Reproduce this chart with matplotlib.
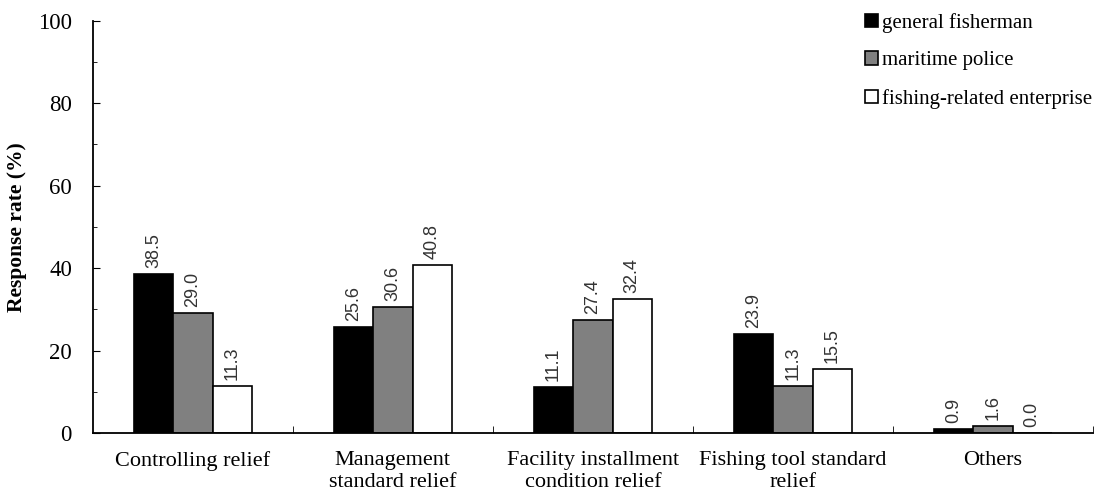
import numpy as np
import matplotlib.pyplot as plt
from matplotlib.ticker import MultipleLocator, FixedLocator

categories = ['Controlling relief', 'Management\nstandard relief',
              'Facility installment\ncondition relief', 'Fishing tool standard\nrelief', 'Others']
series = ['general fisherman', 'maritime police', 'fishing-related enterprise']
fisherman = [38.5, 25.6, 11.1, 23.9, 0.9]
police = [29.0, 30.6, 27.4, 11.3, 1.6]
enterprise = [11.3, 40.8, 32.4, 15.5, 0.0]
colors = ['black', 'gray', 'white']

plt.rcParams['font.family'] = ['Liberation Serif', 'DejaVu Serif']

fig = plt.figure(figsize=(11.05, 4.96), dpi=100)
ax = fig.add_axes([0.084, 0.127, 0.905, 0.831])

x = np.arange(len(categories))
w = 0.197
for i, (vals, c, name) in enumerate(zip([fisherman, police, enterprise], colors, series)):
    pos = x + (i - 1) * w
    ax.bar(pos, vals, w, color=c, edgecolor='black', linewidth=1.2, label=name)
    for p, v in zip(pos, vals):
        ax.text(p, v + 1.5, f'{v:.1f}', rotation=90, ha='center', va='bottom',
                fontsize=13, color='#333333', family=['Liberation Sans', 'DejaVu Sans'])

ax.set_xlim(-0.5, 4.5)
ax.set_ylim(0, 100)
ax.yaxis.set_major_locator(MultipleLocator(20))
ax.yaxis.set_minor_locator(MultipleLocator(10))
ax.tick_params(axis='y', which='both', direction='in', labelsize=16.5, pad=15)
ax.tick_params(axis='y', which='major', length=5)
ax.tick_params(axis='y', which='minor', length=3)
ax.set_xticks(x)
ax.set_xticklabels(categories, fontsize=16, linespacing=1.2)
ax.tick_params(axis='x', which='major', length=0, pad=13)
ax.xaxis.set_minor_locator(FixedLocator(np.arange(0.5, 5, 1)))
ax.tick_params(axis='x', which='minor', direction='in', length=5)

for s in ['top', 'right']:
    ax.spines[s].set_visible(False)
ax.spines['left'].set_linewidth(1.3)
ax.spines['bottom'].set_linewidth(1.3)

ax.set_ylabel('Response rate (%)', fontsize=15.5, fontweight='bold', labelpad=8)

ax.legend(loc='upper right', bbox_to_anchor=(1.018, 1.065), frameon=False, fontsize=15,
          handlelength=0.6, handleheight=0.6, handletextpad=0.2, labelspacing=0.9)

fig.savefig('out.png', dpi=100)
